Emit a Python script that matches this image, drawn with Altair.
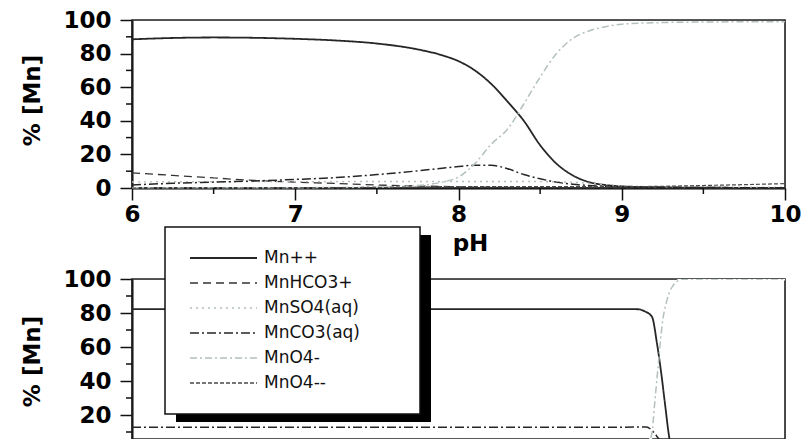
import altair as alt
import pandas as pd

# ---------------- data ----------------
series_names = ["Mn++", "MnHCO3+", "MnSO4(aq)", "MnCO3(aq)", "MnO4-", "MnO4--"]

top_ph = [6.0, 6.25, 6.5, 6.75, 7.0, 7.25, 7.5, 7.75, 7.9, 8.0, 8.1, 8.2,
          8.3, 8.4, 8.5, 8.6, 8.7, 8.8, 8.9, 9.0, 9.25, 9.5, 9.75, 10.0]
top_mn = [88.5, 89.3, 89.6, 89.4, 88.8, 87.8, 86.0, 82.5, 79.0, 75.5, 70.0, 62.0,
          51.5, 40.0, 25.5, 14.5, 7.5, 3.5, 1.8, 1.0, 0.4, 0.2, 0.1, 0.05]
top_mnhco3 = [9.0, 7.5, 6.0, 4.5, 3.5, 2.7, 1.8, 1.2, 0.9, 0.7, 0.5, 0.4,
              0.3, 0.25, 0.2, 0.15, 0.1, 0.08, 0.05, 0.04, 0.02, 0.01, 0.0, 0.0]
top_mnso4 = [3.6, 3.7, 3.7, 3.8, 3.8, 3.8, 3.9, 3.9, 3.9, 3.9, 3.9, 3.9,
             3.9, 3.9, 3.8, 3.7, 3.4, 2.8, 2.0, 1.3, 0.8, 0.6, 0.5, 0.5]
top_mnco3 = [1.8, 2.8, 3.5, 4.2, 5.1, 6.2, 8.0, 10.2, 11.8, 12.8, 13.5, 13.5,
             11.5, 8.0, 5.5, 3.5, 2.2, 1.5, 1.0, 0.7, 0.4, 0.3, 0.2, 0.2]
top_mno4 = [0.1, 0.1, 0.1, 0.2, 0.2, 0.3, 0.5, 1.5, 3.5, 6.5, 14.5, 26.0,
            35.0, 50.0, 66.0, 80.0, 89.0, 93.5, 96.0, 97.5, 98.5, 98.8, 98.9, 98.9]
top_mno4_2 = [0.0, 0.0, 0.0, 0.0, 0.1, 0.2, 0.4, 0.6, 0.8, 0.8, 0.8, 0.8,
              0.8, 0.8, 0.8, 0.8, 0.8, 0.8, 0.8, 0.8, 1.0, 1.5, 2.0, 2.6]

bot_mn_ph = [6.0, 9.0, 9.1, 9.14, 9.185, 9.216, 9.242, 9.267, 9.287, 9.30, 9.35, 10.0]
bot_mn = [82.3, 82.3, 82.2, 81.0, 77.8, 62.0, 44.5, 24.9, 9.4, 2.0, 0.0, 0.0]
bot_mnco3_ph = [6.0, 9.0, 9.15, 9.2, 9.25, 9.3, 10.0]
bot_mnco3 = [12.8, 12.8, 13.0, 9.4, 3.0, 0.5, 0.0]
bot_mno4_ph = [6.0, 9.0, 9.15, 9.185, 9.2, 9.226, 9.246, 9.277, 9.31, 9.37, 9.5, 10.0]
bot_mno4 = [0.0, 0.0, 1.0, 9.4, 25.0, 52.0, 72.0, 87.6, 95.5, 99.8, 100.0, 100.0]

y_major = [0, 20, 40, 60, 80, 100]
y_minor = [10, 30, 50, 70, 90]
x_major = [6, 7, 8, 9, 10]
x_minor = [6.5, 7.5, 8.5, 9.5]

top_df = pd.concat([
    pd.DataFrame({"pH": top_ph, "pct": vals, "series": name})
    for name, vals in zip(series_names,
                          [top_mn, top_mnhco3, top_mnso4, top_mnco3, top_mno4, top_mno4_2])
])
bot_df = pd.concat([
    pd.DataFrame({"pH": bot_mn_ph, "pct": bot_mn, "series": "Mn++"}),
    pd.DataFrame({"pH": bot_mnco3_ph, "pct": bot_mnco3, "series": "MnCO3(aq)"}),
    pd.DataFrame({"pH": bot_mno4_ph, "pct": bot_mno4, "series": "MnO4-"}),
])

# ---------------- styles ----------------
styles = {
    "Mn++": dict(color="#262626", dash=[1, 0], width=1.8),
    "MnHCO3+": dict(color="#333333", dash=[8, 5], width=1.3),
    "MnSO4(aq)": dict(color="#b4bebe", dash=[2, 4], width=1.4),
    "MnCO3(aq)": dict(color="#262626", dash=[9, 3, 2, 3], width=1.5),
    "MnO4-": dict(color="#b4c0c0", dash=[7, 3, 2, 3], width=1.5),
    "MnO4--": dict(color="#4a4a4a", dash=[4, 2], width=1.2),
}

W = 653
H_TOP = 168
H_BOT = 160
LABEL_FONT = "DejaVu Sans"

x_scale = alt.Scale(domain=[6, 10], nice=False, zero=False)
one = pd.DataFrame({"a": [0]})


def frame(h):
    return alt.Chart(one).mark_rect(filled=False, stroke="#222", strokeWidth=1.6).encode(
        x=alt.value(0), x2=alt.value(W), y=alt.value(0), y2=alt.value(h))


def series_layers(df, y_scale, y_axis, x_axis, clip):
    layers = []
    for name in series_names:
        if name not in set(df["series"]):
            continue
        st = styles[name]
        layers.append(
            alt.Chart(df).transform_filter(alt.datum.series == name).mark_line(
                color=st["color"], strokeDash=st["dash"], strokeWidth=st["width"],
                interpolate="monotone", clip=clip,
            ).encode(
                x=alt.X("pH:Q", scale=x_scale, axis=x_axis),
                y=alt.Y("pct:Q", scale=y_scale, axis=y_axis),
            )
        )
    return layers


def y_axis_def(title_y):
    return alt.Axis(
        values=y_major, tickSize=12, tickWidth=1.5, tickColor="#111", labelOverlap=False,
        domainColor="#000", domainWidth=2, labelFont=LABEL_FONT, labelFontWeight="bold",
        labelFontSize=23, labelColor="#000", labelPadding=9, grid=False, format="d",
        title="% [Mn]", titleFont=LABEL_FONT, titleFontWeight="bold", titleFontSize=23,
        titleColor="#000", titleX=-100, titleY=title_y, titleAngle=270,
        titleAlign="center", titleBaseline="middle",
    )


# ---------------- top panel ----------------
top_y_scale = alt.Scale(domain=[0, 100], nice=False, zero=False)
top_y_axis = y_axis_def(80)
top_x_axis = alt.Axis(
    values=x_major, tickSize=12, tickWidth=1.5, tickColor="#111", domainColor="#000",
    domainWidth=2, labelFont=LABEL_FONT, labelFontWeight="bold", labelFontSize=23,
    labelColor="#000", labelPadding=3, labelFlush=False, labelOverlap=False, format="d",
    grid=False, title="pH", titleFont=LABEL_FONT, titleFontWeight="bold", titleFontSize=23,
    titleColor="#000", titleX=338, titleY=62, titleAlign="center",
    titleBaseline="alphabetic",
)

top_lines = series_layers(top_df, top_y_scale, top_y_axis, top_x_axis, False)

top_minor_y = alt.Chart(pd.DataFrame({"pct": y_minor})).mark_rule(
    color="#111", strokeWidth=1.5).encode(
    y=alt.Y("pct:Q", scale=top_y_scale, axis=top_y_axis), x=alt.value(-6), x2=alt.value(0))
top_minor_x = alt.Chart(pd.DataFrame({"pH": x_minor})).mark_rule(
    color="#111", strokeWidth=1.5).encode(
    x=alt.X("pH:Q", scale=x_scale, axis=top_x_axis), y=alt.value(H_TOP), y2=alt.value(H_TOP + 6))

top = alt.layer(frame(H_TOP), *top_lines, top_minor_y, top_minor_x).properties(
    width=W, height=H_TOP)

# ---------------- bottom panel ----------------
bot_y_scale = alt.Scale(domain=[100 - H_BOT / 1.7, 100], nice=False, zero=False)
bot_y_axis = y_axis_def(82)

underlay = alt.Chart(bot_df).transform_filter(alt.datum.series == "MnO4-").mark_line(
    color="white", strokeWidth=3, interpolate="monotone", clip=True).encode(
    x=alt.X("pH:Q", scale=x_scale, axis=None),
    y=alt.Y("pct:Q", scale=bot_y_scale, axis=bot_y_axis),
)
bot_lines = series_layers(bot_df, bot_y_scale, bot_y_axis, None, True)

bot_minor_y = alt.Chart(pd.DataFrame({"pct": y_minor})).mark_rule(
    color="#111", strokeWidth=1.5).encode(
    y=alt.Y("pct:Q", scale=bot_y_scale, axis=bot_y_axis), x=alt.value(-6), x2=alt.value(0))

# legend (drawn as marks, positions are layout constants in pixels)
LX0, LY0, LX1, LY1 = 33, -52, 288, 135
shadow = alt.Chart(one).mark_rect(fill="#000").encode(
    x=alt.value(LX0 + 11), x2=alt.value(LX1 + 11), y=alt.value(LY0 + 8), y2=alt.value(LY1 + 8))
box = alt.Chart(one).mark_rect(fill="white", stroke="#111", strokeWidth=1.5).encode(
    x=alt.value(LX0), x2=alt.value(LX1), y=alt.value(LY0), y2=alt.value(LY1))

legend_layers = []
for i, name in enumerate(series_names):
    st = styles[name]
    ry = -21 + 25 * i
    row = pd.DataFrame({"label": [name]})
    legend_layers.append(
        alt.Chart(row).mark_rule(
            color=st["color"], strokeDash=st["dash"], strokeWidth=max(st["width"], 1.4)
        ).encode(x=alt.value(58), x2=alt.value(125), y=alt.value(ry), y2=alt.value(ry))
    )
    legend_layers.append(
        alt.Chart(row).mark_text(
            align="left", baseline="middle", font=LABEL_FONT, fontSize=17, color="#111"
        ).encode(text="label:N", x=alt.value(132), y=alt.value(ry))
    )

bottom = alt.layer(
    frame(H_BOT), underlay, *bot_lines, bot_minor_y, shadow, box, *legend_layers
).properties(width=W, height=H_BOT)

chart = alt.vconcat(top, bottom, spacing=91, bounds="flush").properties(
    padding={"left": 20, "top": 8, "right": 0, "bottom": 0}
).configure_view(stroke=None).configure(background="white")

chart.save("out.html", embed_options={"renderer": "svg", "actions": False})
